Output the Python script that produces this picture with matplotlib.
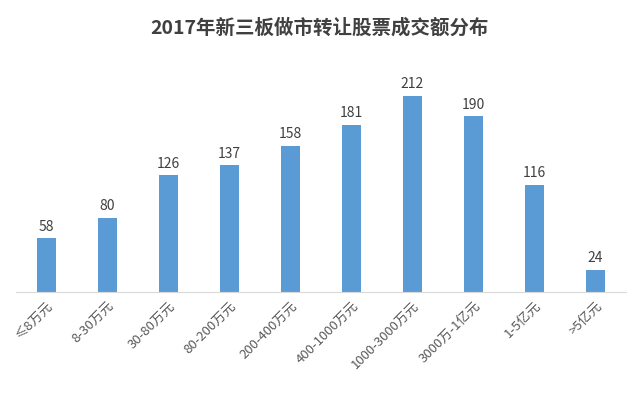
import matplotlib
matplotlib.use("Agg")
import matplotlib.pyplot as plt

plt.rcParams['font.family'] = ['Noto Sans CJK SC', 'DejaVu Sans']

# Turnover buckets and number of stocks in each
categories = ["≤8万元", "8-30万元", "30-80万元", "80-200万元", "200-400万元",
              "400-1000万元", "1000-3000万元", "3000万-1亿元", "1-5亿元", ">5亿元"]
counts = [58, 80, 126, 137, 158, 181, 212, 190, 116, 24]

fig = plt.figure(figsize=(6.4, 4), dpi=100)
ax = fig.add_axes([0.025, 0.27, 0.953, 0.555])

x = range(len(categories))
bars = ax.bar(x, counts, width=0.31, color="#5B9BD5")
for b, v in zip(bars, counts):
    ax.text(b.get_x() + b.get_width() / 2, v + 5, str(v), ha="center", va="bottom",
            fontsize=10, color="#404040")

ax.set_xlim(-0.5, len(categories) - 0.5)
ax.set_ylim(0, 240)
ax.set_yticks([])
ax.set_xticks(list(x))
ax.set_xticklabels(categories, rotation=45, ha="right", rotation_mode="anchor",
                   fontsize=9.5, color="#595959")
ax.tick_params(axis="x", length=0, pad=5)
for s in ["top", "right", "left"]:
    ax.spines[s].set_visible(False)
ax.spines["bottom"].set_color("#D9D9D9")

fig.text(0.5, 0.93, "2017年新三板做市转让股票成交额分布", ha="center", va="center",
         fontsize=14, fontweight="bold", color="#404040")

fig.savefig("out.png", dpi=100)
